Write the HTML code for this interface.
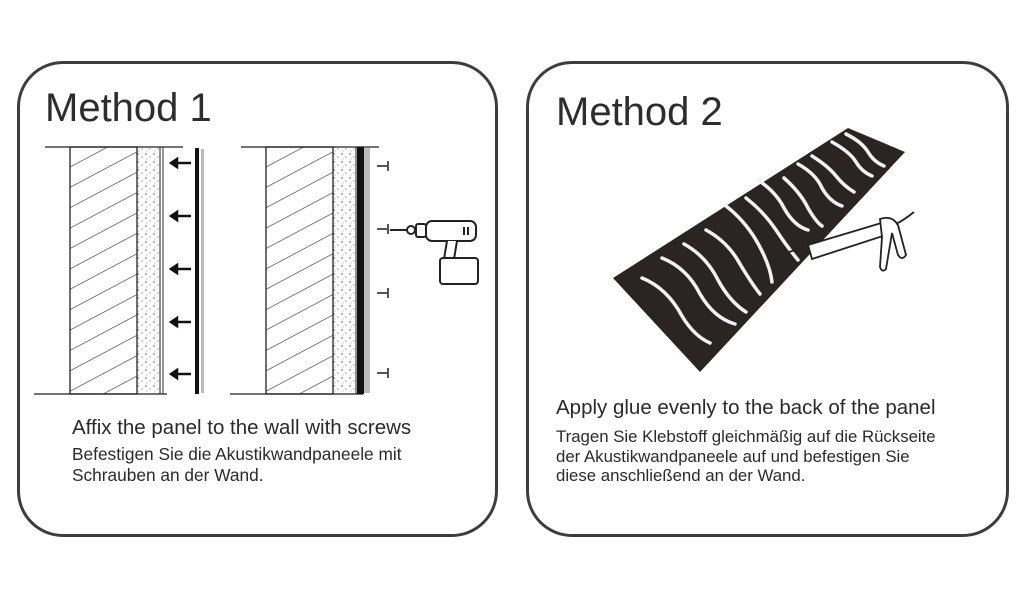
<!DOCTYPE html>
<html><head><meta charset="utf-8"><style>
body{margin:0;width:1024px;height:594px;background:#fff;overflow:hidden;font-family:"Liberation Sans",sans-serif;color:#2a2a2a}
.box{position:absolute;border:3.5px solid #3d3d3d;border-radius:46px;background:#fff}
.t{position:absolute;white-space:nowrap}
</style></head><body>
<div class="box" style="left:17px;top:61px;width:475px;height:470px"></div>
<div class="box" style="left:526px;top:61px;width:477px;height:470px"></div>
<div class="t" style="left:45px;top:86px;font-size:40px;color:#2d2d2d">Method 1</div>
<div class="t" style="left:556px;top:90px;font-size:40px;color:#2d2d2d">Method 2</div>
<div class="t" style="left:72px;top:416px;font-size:20.5px">Affix the panel to the wall with screws</div>
<div class="t" style="left:72px;top:444px;font-size:17.3px;line-height:21px">Befestigen Sie die Akustikwandpaneele mit<br>Schrauben an der Wand.</div>
<div class="t" style="left:556px;top:396px;font-size:20.5px">Apply glue evenly to the back of the panel</div>
<div class="t" style="left:556px;top:427px;font-size:16.8px;line-height:19.5px">Tragen Sie Klebstoff gleichmäßig auf die Rückseite<br>der Akustikwandpaneele auf und befestigen Sie<br>diese anschließend an der Wand.</div>
<svg width="1024" height="594" style="position:absolute;left:0;top:0">
<defs>
<pattern id="h" width="20" height="18" patternUnits="userSpaceOnUse" patternTransform="rotate(-28)">
<line x1="0" y1="0" x2="20" y2="0" stroke="#333" stroke-width="1.3"/></pattern>
<pattern id="s" width="8" height="8" patternUnits="userSpaceOnUse">
<circle cx="2" cy="2" r="0.8" fill="#555"/><circle cx="6" cy="5" r="0.6" fill="#666"/><circle cx="3" cy="7" r="0.5" fill="#777"/></pattern>
<g id="wall">
<line x1="45" y1="147" x2="183" y2="147" stroke="#222" stroke-width="1.3"/>
<line x1="34" y1="394" x2="167" y2="394" stroke="#222" stroke-width="1.3"/>
<rect x="70" y="147" width="67" height="247" fill="url(#h)" stroke="#222" stroke-width="1.3"/>
<rect x="137" y="147" width="23" height="247" fill="url(#s)" stroke="#222" stroke-width="1"/>
<line x1="163" y1="147" x2="163" y2="394" stroke="#333" stroke-width="1"/>
</g>
</defs>
<use href="#wall"/>
<use href="#wall" transform="translate(196,0)"/>
<rect x="195" y="148" width="4" height="246" fill="#111"/>
<rect x="201" y="149" width="3" height="244" fill="#bbb"/>
<g stroke="#111" stroke-width="2.5" fill="#111">
<line x1="176" y1="163" x2="191" y2="163"/><path d="M171 163l6-4v8z"/>
<line x1="176" y1="216" x2="191" y2="216"/><path d="M171 216l6-4v8z"/>
<line x1="176" y1="269" x2="191" y2="269"/><path d="M171 269l6-4v8z"/>
<line x1="176" y1="322" x2="191" y2="322"/><path d="M171 322l6-4v8z"/>
<line x1="176" y1="374" x2="191" y2="374"/><path d="M171 374l6-4v8z"/>
</g>
<rect x="357" y="147" width="7" height="247" fill="#111"/>
<rect x="364" y="148" width="6" height="245" fill="#bbb"/>
<g stroke="#555" stroke-width="2">
<line x1="377" y1="166" x2="388" y2="166"/><line x1="388" y1="161" x2="388" y2="171"/>
<line x1="377" y1="229" x2="388" y2="229"/><line x1="388" y1="224" x2="388" y2="234"/>
<line x1="377" y1="293" x2="388" y2="293"/><line x1="388" y1="288" x2="388" y2="298"/>
<line x1="377" y1="373" x2="388" y2="373"/><line x1="388" y1="368" x2="388" y2="378"/>
</g>
<g stroke="#222" stroke-width="2" fill="#fff">
<line x1="390" y1="230" x2="408" y2="230"/>
<circle cx="411" cy="230" r="4"/>
<rect x="416" y="224" width="10" height="13" rx="2"/>
<rect x="426" y="221" width="50" height="20" rx="6"/>
<path d="M447 241 l-3 18 l10 0 l3 -18"/>
<rect x="440" y="258" width="38" height="26" rx="3"/>
<line x1="464" y1="227" x2="464" y2="235"/><line x1="468" y1="227" x2="468" y2="235"/>
</g>
<polygon points="613,278 848,128 905,152 700,372" fill="#2a2522"/>
<g stroke="#f2f2f2" stroke-width="3.5" fill="none" stroke-linecap="round">
<path d="M642 278 q25 10 40 38 q12 20 28 27"/>
<path d="M662 258 q25 10 38 36 q14 24 35 30"/>
<path d="M684 244 q22 12 34 36 q12 22 28 32"/>
<path d="M706 230 q22 12 34 34 q12 20 20 30"/>
<path d="M726 206 q18 14 30 34 q14 24 16 42"/>
<path d="M746 198 q18 14 30 32 q12 18 22 30"/>
<path d="M758 180 q18 12 26 28 q10 18 24 22"/>
<path d="M784 178 q16 14 24 30 q8 14 14 18"/>
<path d="M798 164 q18 10 24 24 q8 14 20 18"/>
<path d="M812 156 q16 10 24 20 q8 10 18 16"/>
<path d="M832 142 q18 10 24 20 q6 10 16 14"/>
<path d="M846 134 q16 8 22 18 q6 10 16 14"/>
</g>
<g stroke="#222" stroke-width="1.8" fill="#fff">
<path d="M786 253 l18 -6"/>
<path d="M808 245 l80 -24 l4 12 l-80 26z"/>
<path d="M880 219 q12 -4 18 6 l8 30 q-4 6 -8 0 l-6 -22 l-6 36 q-4 4 -6 -2 l2 -30z"/>
<path d="M896 224 q8 -4 18 -12"/>
</g>
</svg>
</body></html>
